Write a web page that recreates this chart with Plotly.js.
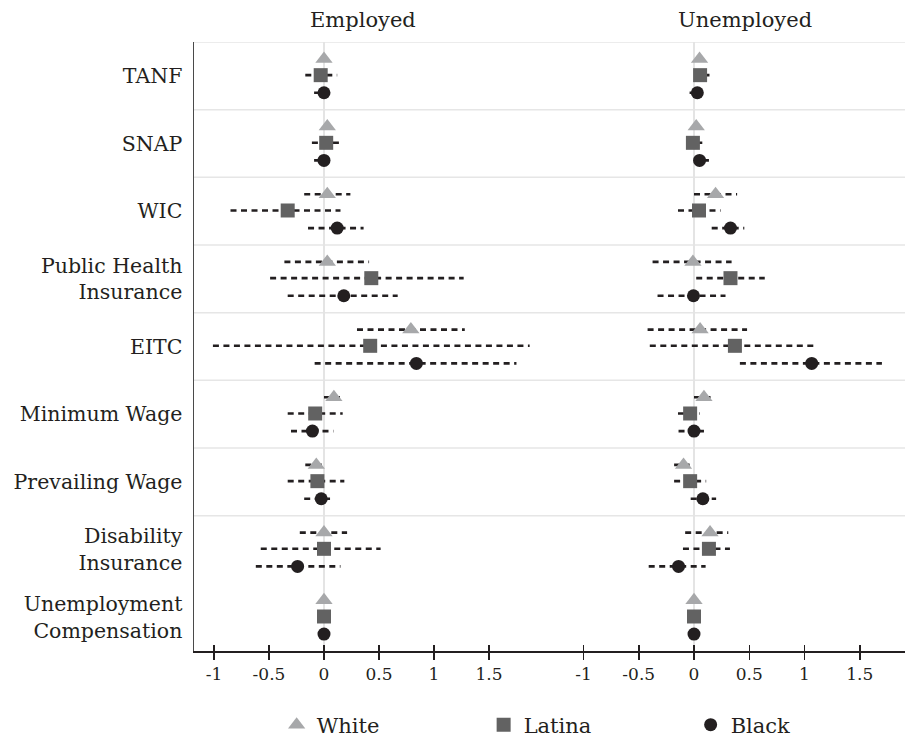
<!DOCTYPE html>
<html>
<head>
<meta charset="utf-8">
<script src="https://cdn.plot.ly/plotly-3.0.1.min.js"></script>
<style>html,body{margin:0;padding:0;background:#fff;}#chart{width:910px;height:738px;}</style>
</head>
<body>
<div id="chart"></div>
<script>
// ---- data ----
const categories = ["TANF", "SNAP", "WIC", "Public Health<br>Insurance", "EITC",
  "Minimum Wage", "Prevailing Wage", "Disability<br>Insurance", "Unemployment<br>Compensation"];
const groups = ["White", "Latina", "Black"];
const tickVals = [-1, -0.5, 0, 0.5, 1, 1.5];
const tickText = ["-1", "-0.5", "0", "0.5", "1", "1.5"];
const panelTitles = ["Employed", "Unemployed"];

// Employed
const empWhiteEst  = [0.00, 0.03, 0.03, 0.03, 0.79, 0.09, -0.07, 0.00, 0.00];
const empWhiteLo   = [-0.02, 0.00, -0.18, -0.36, 0.30, 0.00, -0.17, -0.22, -0.01];
const empWhiteHi   = [0.02, 0.06, 0.24, 0.41, 1.28, 0.145, -0.02, 0.21, 0.01];
const empLatinaEst = [-0.03, 0.02, -0.33, 0.43, 0.42, -0.08, -0.06, 0.00, 0.00];
const empLatinaLo  = [-0.17, -0.11, -0.85, -0.49, -1.01, -0.33, -0.33, -0.575, -0.01];
const empLatinaHi  = [0.12, 0.17, 0.15, 1.27, 1.87, 0.17, 0.185, 0.515, 0.01];
const empBlackEst  = [0.00, 0.00, 0.12, 0.18, 0.84, -0.105, -0.025, -0.24, 0.00];
const empBlackLo   = [-0.09, -0.09, -0.145, -0.33, -0.085, -0.30, -0.18, -0.62, -0.01];
const empBlackHi   = [0.05, 0.05, 0.36, 0.67, 1.75, 0.085, 0.055, 0.15, 0.01];

// Unemployed
const uneWhiteEst  = [0.05, 0.02, 0.195, -0.01, 0.055, 0.09, -0.095, 0.145, 0.00];
const uneWhiteLo   = [0.02, -0.01, 0.00, -0.375, -0.42, 0.00, -0.18, -0.08, -0.01];
const uneWhiteHi   = [0.08, 0.05, 0.39, 0.34, 0.48, 0.19, -0.04, 0.31, 0.01];
const uneLatinaEst = [0.055, -0.01, 0.045, 0.33, 0.37, -0.035, -0.035, 0.135, 0.00];
const uneLatinaLo  = [0.00, -0.07, -0.145, 0.02, -0.40, -0.145, -0.18, -0.10, -0.01];
const uneLatinaHi  = [0.14, 0.075, 0.24, 0.64, 1.12, 0.05, 0.11, 0.325, 0.01];
const uneBlackEst  = [0.03, 0.05, 0.33, -0.005, 1.065, 0.00, 0.08, -0.14, 0.00];
const uneBlackLo   = [-0.04, 0.00, 0.16, -0.33, 0.415, -0.14, -0.03, -0.41, -0.01];
const uneBlackHi   = [0.08, 0.135, 0.455, 0.285, 1.70, 0.09, 0.20, 0.105, 0.01];

// ---- styles ----
const styles = {
  White:  {symbol: "triangle-up", color: "#a7a8aa", size: 15, off: -0.25},
  Latina: {symbol: "square",      color: "#626262", size: 14, off: -0.01},
  Black:  {symbol: "circle",      color: "#231f20", size: 13, off: 0.25}
};
const panels = [
  {xa: "x",  est: [empWhiteEst, empLatinaEst, empBlackEst], lo: [empWhiteLo, empLatinaLo, empBlackLo], hi: [empWhiteHi, empLatinaHi, empBlackHi]},
  {xa: "x2", est: [uneWhiteEst, uneLatinaEst, uneBlackEst], lo: [uneWhiteLo, uneLatinaLo, uneBlackLo], hi: [uneWhiteHi, uneLatinaHi, uneBlackHi]}
];

const ciTraces = [], markerTraces = [];
panels.forEach((p, pi) => {
  groups.forEach((g, gi) => {
    const st = styles[g];
    const cx = [], cy = [];
    categories.forEach((c, i) => {
      cx.push(p.lo[gi][i], p.hi[gi][i], null);
      cy.push(i + st.off, i + st.off, null);
    });
    ciTraces.push({
      type: "scatter", mode: "lines", x: cx, y: cy, xaxis: p.xa, yaxis: "y",
      line: {color: "#231f20", width: 2.6, dash: "6px,4.5px"},
      showlegend: false, hoverinfo: "skip"
    });
    markerTraces.push({
      type: "scatter", mode: "markers", name: g, legendgroup: g,
      x: p.est[gi], y: categories.map((c, i) => i + st.off),
      xaxis: p.xa, yaxis: "y",
      marker: {symbol: st.symbol, color: st.color, size: st.size, line: {width: 0}},
      showlegend: pi === 0, hoverinfo: "x"
    });
  });
});

// dummy traces so the overlay tick axes are drawn
const dummy = [
  {type: "scatter", mode: "markers", x: [null], y: [null], xaxis: "x3", yaxis: "y", showlegend: false, hoverinfo: "skip"},
  {type: "scatter", mode: "markers", x: [null], y: [null], xaxis: "x4", yaxis: "y", showlegend: false, hoverinfo: "skip"}
];

const plotL = 194, plotR = 905, split = 550;
const splitFrac = (split - plotL) / (plotR - plotL);
const rangeL = [-1.182, 2.055];
const rangeR = [-1.303, 1.909];

function xAxis(domain, range) {
  return {
    domain: domain, range: range, anchor: "y",
    tickmode: "array", tickvals: tickVals, ticktext: tickText,
    ticks: "outside", ticklen: 7, tickwidth: 1.5, tickcolor: "#231f20",
    ticklabelstandoff: 0,
    showline: true, linecolor: "#231f20", linewidth: 1.5,
    showgrid: false, zeroline: true, zerolinecolor: "#e4e4e4", zerolinewidth: 2,
    tickfont: {size: 17, color: "#231f20"}, fixedrange: true, automargin: false
  };
}
function tickOverlay(over, range) {
  return {
    overlaying: over, anchor: "y", side: "bottom", range: range,
    tickmode: "array", tickvals: tickVals,
    ticks: "inside", ticklen: 6, tickwidth: 1.5, tickcolor: "#231f20",
    showticklabels: false, showline: false, showgrid: false, zeroline: false, fixedrange: true
  };
}

const shapes = [];
for (let k = 0; k < categories.length - 1; k++) {
  shapes.push({type: "line", layer: "below", xref: "paper", yref: "y",
    x0: 0, x1: 1, y0: k - 0.5, y1: k - 0.5, line: {color: "#e6e6e6", width: 1.5}});
}

const layout = {
  width: 910, height: 738,
  margin: {l: plotL, r: 910 - plotR, t: 42, b: 87, autoexpand: false},
  paper_bgcolor: "#ffffff", plot_bgcolor: "#ffffff",
  font: {family: "DejaVu Serif", color: "#231f20"},
  xaxis: xAxis([0, splitFrac], rangeL),
  xaxis2: xAxis([splitFrac, 1], rangeR),
  xaxis3: tickOverlay("x", rangeL),
  xaxis4: tickOverlay("x2", rangeR),
  yaxis: {
    range: [categories.length - 0.5, -0.5],
    tickmode: "array", tickvals: categories.map((c, i) => i), ticktext: categories,
    ticks: "", ticklabelstandoff: 6,
    showline: true, linecolor: "#4a4a4a", linewidth: 1.5,
    showgrid: false, zeroline: false,
    tickfont: {size: 20.5, color: "#231f20"}, fixedrange: true, automargin: false
  },
  shapes: shapes,
  annotations: panelTitles.map((t, i) => ({
    text: t, xref: "paper", yref: "paper",
    x: i === 0 ? 0.238 : 0.775, y: 1 + 22 / 608, xanchor: "center", yanchor: "middle",
    showarrow: false, font: {size: 21, color: "#231f20"}
  })),
  showlegend: true,
  legend: {
    orientation: "h", xref: "container", yref: "container",
    x: 0.304, xanchor: "left", y: 13 / 738, yanchor: "middle",
    font: {size: 21, color: "#231f20"}, entrywidth: 162, entrywidthmode: "pixels",
    traceorder: "normal", bgcolor: "rgba(0,0,0,0)", itemclick: false, itemdoubleclick: false
  }
};

Plotly.newPlot("chart", ciTraces.concat(markerTraces, dummy), layout, {displayModeBar: false, staticPlot: true});
</script>
</body>
</html>
